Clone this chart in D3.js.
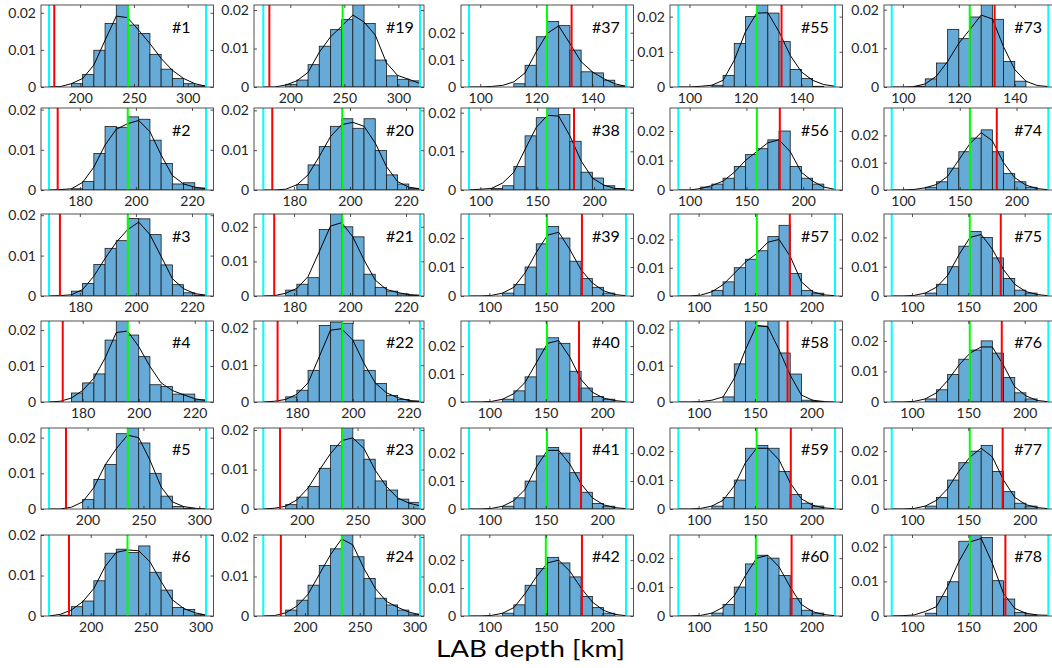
<!DOCTYPE html>
<html><head><meta charset="utf-8">
<script src="https://cdn.jsdelivr.net/npm/d3@7"></script>
<style>
body{margin:0;background:#fff;}
svg{display:block;font-family:Lato,"Open Sans",sans-serif;}
</style></head>
<body><svg id="chart" width="1052" height="668"></svg>
<script>
// ---------------- data ----------------
const panelLabels = ["#1","#2","#3","#4","#5","#6","#19","#20","#21","#22","#23","#24",
  "#37","#38","#39","#40","#41","#42","#55","#56","#57","#58","#59","#60",
  "#73","#74","#75","#76","#77","#78"];

// prior bounds (cyan lines); histograms use 14 equal bins between them
const cyanBounds = [
  [171,317],[169,225],[169,225],[168,224],[165.5,306],[162,305],
  [175,320],[169,225],[169,225],[168,224],[165.5,306],[162,305],
  [96,152],[90,228],[82,221],[82,221],[82,221],[82,221],
  [96,152],[90,228],[82,221],[82,221],[82,221],[82,221],
  [96,152],[90,228],[82,221],[82,221],[82,221],[82,221]];

const redLines = [175.9,172.1,172.9,172.9,180.7,180.2,
  180.6,172.2,172.9,173.1,180.5,178,
  132.6,182.3,182,179.4,181.2,182,
  132.9,179.4,180.9,178.9,181.8,182.5,
  132.8,182.6,178.8,179.7,180.5,182.9];

const greenLines = [244.5,197.1,197.1,196.1,236,233.5,
  248.4,197.2,197.2,196.2,236.2,233.6,
  123.8,158.6,151,151,151,150,
  124.1,159.2,151.7,151.4,151.5,150.8,
  123.9,158.9,151.3,151.3,151.3,151.3];

const yMax = [0.0221,0.0204,0.0203,0.0225,0.0227,0.0200,
  0.0213,0.0206,0.0237,0.0220,0.0205,0.0205,
  0.0302,0.0212,0.0283,0.0290,0.0290,0.0290,
  0.0233,0.0278,0.0290,0.0223,0.0280,0.0280,
  0.0212,0.0300,0.0280,0.0265,0.0280,0.0234];

const barHeights = [
  [0,0,0.0009,0.0034,0.0099,0.0171,0.0235,0.0167,0.0144,0.0088,0.0048,0.0023,0.0009,0.0003],
  [0,0,0.0003,0.0021,0.0091,0.0158,0.0156,0.0182,0.0176,0.0124,0.0066,0.0015,0.0018,0.0005],
  [0,0,0.0012,0.0031,0.0078,0.0118,0.0137,0.0192,0.0191,0.0152,0.0077,0.0028,0.0008,0.0002],
  [0,0,0.0025,0.0053,0.0078,0.0172,0.0235,0.0186,0.0126,0.0048,0.0043,0.0022,0.0022,0.0006],
  [0,0,0,0.0027,0.0083,0.0125,0.0211,0.0235,0.0185,0.0100,0.0036,0.0007,0.0002,0],
  [0,0.0002,0.0023,0.0037,0.0087,0.0155,0.0165,0.0157,0.0173,0.0108,0.0064,0.0021,0.0016,0.0003],
  [0,0,0.0007,0.0018,0.0058,0.0106,0.0149,0.0175,0.0225,0.0165,0.0070,0.0029,0.0020,0.0016],
  [0,0,0,0.0014,0.0063,0.0109,0.0160,0.0179,0.0155,0.0179,0.0099,0.0038,0.0015,0.0004],
  [0,0,0.0017,0.0034,0.0053,0.0192,0.0250,0.0200,0.0171,0.0063,0.0025,0.0014,0.0006,0.0002],
  [0,0,0.0014,0.0032,0.0086,0.0208,0.0217,0.0214,0.0168,0.0086,0.0050,0.0018,0.0007,0.0002],
  [0,0,0.0011,0.0030,0.0057,0.0103,0.0161,0.0210,0.0175,0.0126,0.0071,0.0048,0.0025,0.0017],
  [0,0,0.0015,0.0040,0.0078,0.0128,0.0170,0.0220,0.0150,0.0095,0.0045,0.0028,0.0015,0.0005],
  [0,0,0,0,0.0012,0.0080,0.0185,0.0241,0.0226,0.0136,0.0056,0.0052,0.0025,0.0004],
  [0,0,0.0004,0.0011,0.0061,0.0140,0.0187,0.0225,0.0195,0.0126,0.0046,0.0031,0.0011,0.0004],
  [0,0,0,0.0010,0.0040,0.0100,0.0180,0.0240,0.0200,0.0120,0.0060,0.0030,0.0010,0],
  [0,0,0,0.0010,0.0040,0.0090,0.0190,0.0230,0.0210,0.0110,0.0050,0.0020,0.0010,0],
  [0,0,0,0.0010,0.0040,0.0100,0.0190,0.0220,0.0200,0.0130,0.0060,0.0020,0.0010,0],
  [0,0,0,0.0010,0.0040,0.0110,0.0170,0.0210,0.0190,0.0140,0.0070,0.0030,0.0010,0],
  [0,0,0,0.0005,0.0033,0.0124,0.0200,0.0240,0.0210,0.0129,0.0050,0.0024,0.0002,0],
  [0,0,0.0010,0.0020,0.0040,0.0080,0.0120,0.0140,0.0170,0.0200,0.0080,0.0040,0.0020,0],
  [0,0,0,0.0020,0.0050,0.0100,0.0130,0.0160,0.0210,0.0250,0.0080,0.0020,0.0010,0],
  [0,0,0,0,0.0014,0.0105,0.0230,0.0209,0.0225,0.0135,0.0077,0.0005,0.0002,0],
  [0,0,0,0.0010,0.0040,0.0100,0.0210,0.0220,0.0210,0.0130,0.0050,0.0020,0.0010,0],
  [0,0,0,0.0010,0.0040,0.0100,0.0180,0.0210,0.0200,0.0140,0.0060,0.0020,0.0010,0],
  [0,0,0.0002,0.0021,0.0062,0.0149,0.0125,0.0181,0.0215,0.0175,0.0066,0.0015,0,0],
  [0,0,0,0.0010,0.0030,0.0080,0.0140,0.0190,0.0220,0.0140,0.0060,0.0030,0.0010,0],
  [0,0,0,0.0010,0.0040,0.0100,0.0170,0.0220,0.0200,0.0130,0.0060,0.0020,0.0010,0],
  [0,0,0,0.0010,0.0040,0.0090,0.0140,0.0170,0.0200,0.0160,0.0080,0.0030,0.0010,0],
  [0,0,0,0.0010,0.0040,0.0100,0.0160,0.0200,0.0220,0.0130,0.0060,0.0020,0.0010,0],
  [0,0,0,0.0008,0.0056,0.0099,0.0216,0.0240,0.0227,0.0102,0.0049,0.0010,0.0003,0]];

// density curve sampled at the 15 bin edges
const curveValues = [
  [0,0.0001,0.0009,0.0023,0.0059,0.0126,0.0191,0.0187,0.0153,0.0117,0.0077,0.0045,0.0023,0.0009,0.0002],
  [0,0.0001,0.0003,0.0019,0.0057,0.0112,0.0151,0.0165,0.0173,0.0145,0.0087,0.0036,0.0015,0.0007,0.0003],
  [0,0.0001,0.0003,0.0016,0.0049,0.0093,0.0133,0.0164,0.0183,0.0152,0.0098,0.0043,0.0018,0.0006,0.0002],
  [0,0.0002,0.0011,0.0032,0.0066,0.0122,0.0193,0.0197,0.0154,0.0099,0.0053,0.0032,0.0020,0.0009,0.0004],
  [0,0,0.0005,0.0020,0.0060,0.0123,0.0169,0.0207,0.0200,0.0137,0.0062,0.0020,0.0007,0.0002,0],
  [0,0.0004,0.0015,0.0035,0.0068,0.0122,0.0157,0.0163,0.0161,0.0134,0.0085,0.0040,0.0019,0.0008,0.0002],
  [0,0,0.0005,0.0016,0.0038,0.0090,0.0130,0.0158,0.0187,0.0169,0.0135,0.0063,0.0030,0.0020,0.0009],
  [0,0,0.0002,0.0013,0.0038,0.0084,0.0134,0.0164,0.0170,0.0160,0.0118,0.0059,0.0021,0.0007,0.0003],
  [0,0.0001,0.0008,0.0022,0.0056,0.0128,0.0202,0.0212,0.0171,0.0104,0.0046,0.0019,0.0010,0.0004,0.0002],
  [0,0.0002,0.0007,0.0021,0.0052,0.0123,0.0195,0.0199,0.0168,0.0105,0.0052,0.0025,0.0012,0.0004,0.0002],
  [0,0.0002,0.0007,0.0023,0.0053,0.0098,0.0140,0.0173,0.0180,0.0153,0.0098,0.0057,0.0028,0.0015,0.0008],
  [0,0.0001,0.0008,0.0025,0.0055,0.0105,0.0155,0.0195,0.0180,0.0120,0.0070,0.0037,0.0022,0.0010,0.0003],
  [0,0,0.0002,0.0006,0.0019,0.0052,0.0130,0.0198,0.0225,0.0160,0.0093,0.0056,0.0031,0.0012,0.0002],
  [0,0.0002,0.0004,0.0018,0.0046,0.0105,0.0162,0.0193,0.0191,0.0140,0.0075,0.0031,0.0013,0.0004,0.0002],
  [0,0,0.0002,0.0010,0.0030,0.0080,0.0150,0.0210,0.0220,0.0160,0.0090,0.0045,0.0018,0.0005,0.0001],
  [0,0,0.0002,0.0010,0.0030,0.0070,0.0140,0.0210,0.0220,0.0160,0.0080,0.0035,0.0014,0.0005,0.0001],
  [0,0,0.0002,0.0010,0.0030,0.0070,0.0150,0.0210,0.0210,0.0160,0.0090,0.0040,0.0015,0.0005,0.0001],
  [0,0,0.0002,0.0010,0.0030,0.0080,0.0140,0.0190,0.0200,0.0160,0.0100,0.0050,0.0020,0.0006,0.0001],
  [0,0,0.0002,0.0005,0.0019,0.0076,0.0157,0.0210,0.0211,0.0157,0.0090,0.0043,0.0019,0.0007,0.0002],
  [0,0,0.0005,0.0015,0.0030,0.0060,0.0100,0.0130,0.0160,0.0170,0.0130,0.0060,0.0030,0.0010,0.0002],
  [0,0,0.0003,0.0015,0.0040,0.0080,0.0120,0.0150,0.0190,0.0200,0.0140,0.0050,0.0015,0.0004,0.0001],
  [0,0,0.0001,0.0005,0.0014,0.0065,0.0144,0.0211,0.0207,0.0144,0.0074,0.0019,0.0005,0.0001,0],
  [0,0,0.0002,0.0010,0.0030,0.0080,0.0160,0.0210,0.0210,0.0170,0.0090,0.0035,0.0013,0.0004,0.0001],
  [0,0,0.0002,0.0010,0.0030,0.0070,0.0140,0.0200,0.0210,0.0170,0.0100,0.0040,0.0015,0.0005,0.0001],
  [0,0,0.0001,0.0008,0.0028,0.0066,0.0113,0.0149,0.0186,0.0176,0.0104,0.0045,0.0015,0.0004,0.0001],
  [0,0,0.0002,0.0008,0.0020,0.0050,0.0110,0.0170,0.0210,0.0180,0.0100,0.0045,0.0018,0.0005,0.0001],
  [0,0,0.0002,0.0010,0.0030,0.0070,0.0140,0.0200,0.0210,0.0160,0.0090,0.0040,0.0015,0.0005,0.0001],
  [0,0,0.0002,0.0010,0.0030,0.0070,0.0120,0.0160,0.0180,0.0180,0.0120,0.0050,0.0020,0.0005,0.0001],
  [0,0,0.0002,0.0010,0.0030,0.0070,0.0130,0.0180,0.0210,0.0180,0.0100,0.0040,0.0015,0.0005,0.0001],
  [0,0.0001,0.0003,0.0013,0.0027,0.0085,0.0157,0.0214,0.0224,0.0152,0.0065,0.0022,0.0008,0.0003,0.0002]];

const xTickValues = [
  [200,250,300],[180,200,220],[180,200,220],[180,200,220],[200,250,300],[200,250,300],
  [200,250,300],[180,200,220],[180,200,220],[180,200,220],[200,250,300],[200,250,300],
  [100,120,140],[100,150,200],[100,150,200],[100,150,200],[100,150,200],[100,150,200],
  [100,120,140],[100,150,200],[100,150,200],[100,150,200],[100,150,200],[100,150,200],
  [100,120,140],[100,150,200],[100,150,200],[100,150,200],[100,150,200],[100,150,200]];
const yTickValues = [0, 0.01, 0.02];
const xAxisTitle = "LAB depth [km]";
const nBins = 14;

// ---------------- layout ----------------
const colFrames = [[41,213.5],[254,424],[461,633.5],[670,842.5],[884,1056]];
const colCyanPx = [[49,206],[263.3,420],[469,626],[678.3,835],[891.7,1048.3]];
const rowFrames = [[5,87],[108,190],[214,296],[321,402],[428,509],[535,616]];

const axisColor = "#262626";
const barFill = "#66aad7";
const svg = d3.select("#chart");
const defs = svg.append("defs");

panelLabels.forEach((lab, i) => {
  const c = Math.floor(i / 6), r = i % 6;
  const [lo, hi] = cyanBounds[i];
  const [fl, fr] = colFrames[c];
  const [ft, fb] = rowFrames[r];
  const x = d3.scaleLinear().domain([lo, hi]).range(colCyanPx[c]);
  const y = d3.scaleLinear().domain([0, yMax[i]]).range([fb, ft]);
  const edges = d3.range(nBins + 1).map(k => lo + k * (hi - lo) / nBins);

  const clipId = "clip" + i;
  defs.append("clipPath").attr("id", clipId)
    .append("rect").attr("x", fl).attr("y", ft).attr("width", fr - fl).attr("height", fb - ft);

  const g = svg.append("g");
  const inner = g.append("g").attr("clip-path", `url(#${clipId})`);

  inner.selectAll("rect.bar").data(barHeights[i]).join("rect")
    .attr("class", "bar")
    .attr("x", (d, k) => x(edges[k]))
    .attr("width", (d, k) => x(edges[k + 1]) - x(edges[k]))
    .attr("y", d => y(d))
    .attr("height", d => Math.max(0, fb - y(d)))
    .attr("fill", barFill)
    .attr("stroke", d => d > 0 ? "#1a1a1a" : "none")
    .attr("stroke-width", 0.8);

  inner.append("path")
    .datum(curveValues[i].map((v, k) => [edges[k], v]))
    .attr("fill", "none").attr("stroke", "#000").attr("stroke-width", 1)
    .attr("d", d3.line().x(d => x(d[0])).y(d => y(d[1])));

  const vlines = [
    {v: lo, col: "#00ffff"}, {v: hi, col: "#00ffff"},
    {v: redLines[i], col: "#ff0000"}, {v: greenLines[i], col: "#00ff00"}];
  inner.selectAll("line.v").data(vlines).join("line")
    .attr("class", "v")
    .attr("x1", d => x(d.v)).attr("x2", d => x(d.v))
    .attr("y1", ft).attr("y2", fb)
    .attr("stroke", d => d.col).attr("stroke-width", 2);

  // axes (MATLAB style: ticks inside, box on)
  const xDom = [x.invert(fl), x.invert(fr)];
  const xa = d3.scaleLinear().domain(xDom).range([fl, fr]);
  const ax = g.append("g").attr("transform", `translate(0,${fb})`)
    .call(d3.axisBottom(xa).tickValues(xTickValues[i]).tickSizeInner(-3).tickSizeOuter(0).tickPadding(6));
  const axT = g.append("g").attr("transform", `translate(0,${ft})`)
    .call(d3.axisTop(xa).tickValues(xTickValues[i]).tickSizeInner(-3).tickSizeOuter(0).tickFormat(""));
  const ay = g.append("g").attr("transform", `translate(${fl},0)`)
    .call(d3.axisLeft(y).tickValues(yTickValues).tickSizeInner(-3).tickSizeOuter(0).tickPadding(5)
      .tickFormat(d => d === 0 ? "0" : d3.format(".2f")(d)));
  const ayR = g.append("g").attr("transform", `translate(${fr},0)`)
    .call(d3.axisRight(y).tickValues(yTickValues).tickSizeInner(-3).tickSizeOuter(0).tickFormat(""));
  [ax, axT, ay, ayR].forEach(a => {
    a.select(".domain").remove();
    a.selectAll(".tick line").attr("stroke", axisColor).attr("stroke-width", 0.8);
    a.selectAll(".tick text").attr("fill", axisColor).style("font-size", "14px")
      .style("font-family", "Lato, 'Open Sans', sans-serif");
  });
  g.append("rect").attr("x", fl).attr("y", ft).attr("width", fr - fl).attr("height", fb - ft)
    .attr("fill", "none").attr("stroke", axisColor).attr("stroke-width", 0.8);

  g.append("text")
    .attr("x", x(lo + 0.783 * (hi - lo)))
    .attr("y", y(0.73 * yMax[i]))
    .attr("dy", "0.35em")
    .attr("font-size", 16)
    .attr("fill", "#000")
    .text(lab);
});

svg.append("text")
  .attr("x", 530.5).attr("y", 657)
  .attr("text-anchor", "middle")
  .attr("font-size", 24)
  .attr("textLength", 189)
  .attr("lengthAdjust", "spacingAndGlyphs")
  .attr("fill", "#000")
  .text(xAxisTitle);
</script>
</body></html>
